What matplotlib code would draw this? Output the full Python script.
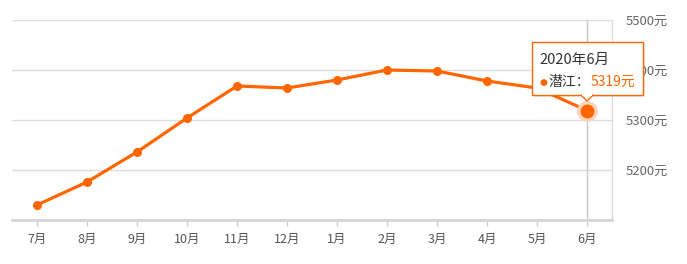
import matplotlib
matplotlib.use("Agg")
import matplotlib.pyplot as plt
from matplotlib.patches import Rectangle, Polygon

plt.rcParams['font.family'] = ['Noto Sans CJK SC', 'DejaVu Sans']

months = ['7月', '8月', '9月', '10月', '11月', '12月', '1月', '2月', '3月', '4月', '5月', '6月']
prices = [5130, 5176, 5236, 5304, 5368, 5364, 5380, 5400, 5398, 5378, 5364, 5319]
y_ticks = [5200, 5300, 5400, 5500]
city = '潜江'
tip_title = '2020年6月'

orange = '#ff6600'
W, H = 687, 264

fig = plt.figure(figsize=(W / 100, H / 100), dpi=100)
ax = fig.add_axes([12 / W, 44 / H, 600 / W, 200 / H])

x = list(range(len(months)))
ax.set_xlim(-0.5, len(months) - 0.5)
ax.set_ylim(5100, 5500)

for v in y_ticks:
    ax.axhline(v, color='#dddddd', lw=1, zorder=0)

# cursor line on last month
ax.axvline(x[-1], color='#c8c8c8', lw=1, zorder=1)

ax.plot(x, prices, color=orange, lw=2.3, marker='o', markersize=5.5, zorder=3, solid_capstyle='round')
ax.plot(x[-1], prices[-1], 'o', color='#fcd3bb', markersize=14, zorder=4)
ax.plot(x[-1], prices[-1], 'o', color=orange, markersize=9, zorder=5)

for s in ['top', 'left']:
    ax.spines[s].set_visible(False)
ax.spines['bottom'].set_color('#d6d6d6')
ax.spines['bottom'].set_linewidth(2)
ax.spines['right'].set_color('#dddddd')
ax.spines['right'].set_linewidth(1)

ax.set_xticks(x)
ax.set_xticklabels(months)
ax.tick_params(axis='x', colors='#cccccc', length=4, width=1, labelcolor='#555555', labelsize=9, pad=5)
ax.yaxis.tick_right()
ax.set_yticks(y_ticks)
ax.set_yticklabels([f'{v}元' for v in y_ticks])
ax.tick_params(axis='y', length=0, labelcolor='#666666', labelsize=9.5, pad=10)

# tooltip
def fx(px):
    return px / W

def fy(py):
    return 1 - py / H

bx0, bx1, by0, by1 = 532, 643, 42, 95
fig.patches.append(Rectangle((fx(bx0 + 2), fy(by1 + 2)), fx(bx1 - bx0), (by1 - by0) / H,
                             transform=fig.transFigure, facecolor='#000000', alpha=0.08,
                             edgecolor='none', zorder=9))
fig.patches.append(Rectangle((fx(bx0), fy(by1)), fx(bx1 - bx0), (by1 - by0) / H,
                             transform=fig.transFigure, facecolor='white',
                             edgecolor=orange, lw=1, zorder=10))
fig.patches.append(Polygon([(fx(581), fy(by1)), (fx(593), fy(by1)), (fx(587), fy(by1 + 6))],
                           closed=True, transform=fig.transFigure, facecolor='white',
                           edgecolor=orange, lw=1, zorder=10))
fig.patches.append(Rectangle((fx(582), fy(by1 + 0.5)), fx(10), 1.2 / H, transform=fig.transFigure,
                             facecolor='white', edgecolor='none', zorder=11))

fig.text(fx(539), fy(60), tip_title, fontsize=10.5, color='#333333', va='center', ha='left', zorder=12)
fig.text(fx(539), fy(82), '●', fontsize=6.5, color=orange, va='center', ha='left', zorder=12,
         family=['DejaVu Sans'])
fig.text(fx(548), fy(82), city + '：', fontsize=10, color='#333333', va='center', ha='left', zorder=12)
fig.text(fx(591), fy(82), f'{prices[-1]}元', fontsize=10, color=orange, va='center', ha='left', zorder=12)

fig.savefig('out.png', dpi=100)
